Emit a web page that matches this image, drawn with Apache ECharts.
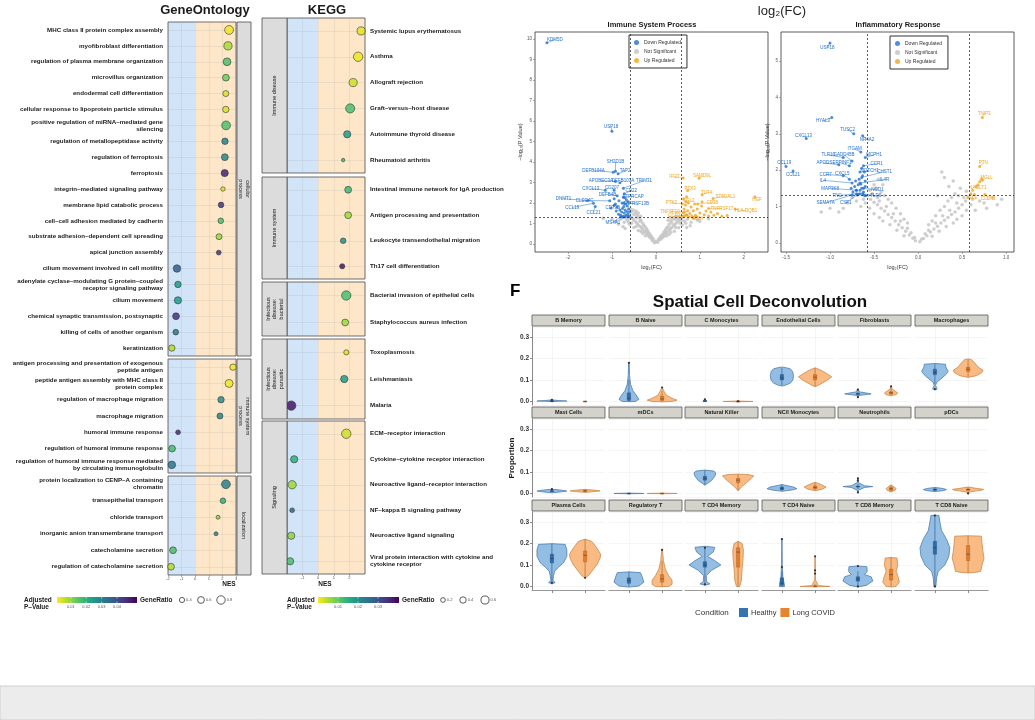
<!DOCTYPE html>
<html>
<head>
<meta charset="utf-8">
<title>Enrichment, volcano and deconvolution panels</title>
<script src="https://cdn.jsdelivr.net/npm/echarts@6.0.0/dist/echarts.min.js"></script>
<style>
  html, body { margin: 0; padding: 0; background: #fff; }
  #chart { width: 1035px; height: 720px; }
</style>
</head>
<body>
<div id="chart"></div>
<script>
const FONT = '"Liberation Sans", Arial, Helvetica, sans-serif'

// ---- GO enrichment ----
const goGroups = ['cellular\nprocess', 'immune system\nprocess', 'localization']
const goGroupSizes = [21, 7, 6]
const goTerms = [
  'MHC class II protein complex assembly', 'myofibroblast differentiation',
  'regulation of plasma membrane organization', 'microvillus organization',
  'endodermal cell differentiation', 'cellular response to lipoprotein particle stimulus',
  'positive regulation of miRNA–mediated gene\nsilencing', 'regulation of metallopeptidase activity',
  'regulation of ferroptosis', 'ferroptosis', 'integrin–mediated signaling pathway',
  'membrane lipid catabolic process', 'cell–cell adhesion mediated by cadherin',
  'substrate adhesion–dependent cell spreading', 'apical junction assembly',
  'cilium movement involved in cell motility',
  'adenylate cyclase–modulating G protein–coupled\nreceptor signaling pathway',
  'cilium movement', 'chemical synaptic transmission, postsynaptic',
  'killing of cells of another organism', 'keratinization',
  'antigen processing and presentation of exogenous\npeptide antigen',
  'peptide antigen assembly with MHC class II\nprotein complex',
  'regulation of macrophage migration', 'macrophage migration', 'humoral immune response',
  'regulation of humoral immune response',
  'regulation of humoral immune response mediated\nby circulating immunoglobulin',
  'protein localization to CENP–A containing\nchromatin', 'transepithelial transport',
  'chloride transport', 'inorganic anion transmembrane transport',
  'catecholamine secretion', 'regulation of catecholamine secretion'
]
const goNES = [2.49, 2.41, 2.34, 2.26, 2.25, 2.25, 2.27, 2.19, 2.18, 2.17, 2.04, 1.9, 1.88, 1.75, 1.73,
  -1.34, -1.27, -1.27, -1.41, -1.43, -1.72, 2.78, 2.49, 1.9, 1.82, -1.26, -1.7, -1.72,
  2.26, 2.04, 1.68, 1.53, -1.63, -1.78]
const goPadj = [0.002, 0.008, 0.016, 0.013, 0.004, 0.004, 0.016, 0.03, 0.028, 0.048, 0.003, 0.045, 0.016, 0.009, 0.045,
  0.037, 0.024, 0.024, 0.045, 0.032, 0.007, 0.002, 0.002, 0.027, 0.029, 0.047, 0.017, 0.032,
  0.03, 0.02, 0.01, 0.03, 0.016, 0.007]
const goRatio = [0.85, 0.78, 0.72, 0.6, 0.5, 0.55, 0.85, 0.55, 0.6, 0.65, 0.3, 0.45, 0.45, 0.5, 0.35,
  0.68, 0.55, 0.65, 0.6, 0.45, 0.55, 0.55, 0.75, 0.55, 0.5, 0.35, 0.6, 0.7,
  0.85, 0.45, 0.25, 0.25, 0.6, 0.6]
const goPadjTicks = [0.01, 0.02, 0.03, 0.04]
const goRatioTicks = [0.4, 0.6, 0.8]

// ---- KEGG enrichment ----
const keggGroups = ['Immune disease', 'Immune system', 'Infectious\ndisease:\nbacterial', 'Infectious\ndisease:\nparasitic', 'Signaling']
const keggGroupSizes = [6, 4, 2, 3, 6]
const keggTerms = [
  'Systemic lupus erythematosus', 'Asthma', 'Allograft rejection', 'Graft–versus–host disease',
  'Autoimmune thyroid disease', 'Rheumatoid arthritis',
  'Intestinal immune network for IgA production', 'Antigen processing and presentation',
  'Leukocyte transendothelial migration', 'Th17 cell differentiation',
  'Bacterial invasion of epithelial cells', 'Staphylococcus aureus infection',
  'Toxoplasmosis', 'Leishmaniasis', 'Malaria',
  'ECM–receptor interaction', 'Cytokine–cytokine receptor interaction',
  'Neuroactive ligand–receptor interaction', 'NF–kappa B signaling pathway',
  'Neuroactive ligand signaling', 'Viral protein interaction with cytokine and\ncytokine receptor'
]
const keggNES = [2.75, 2.56, 2.24, 2.05, 1.86, 1.6, 1.92, 1.92, 1.6, 1.54, 1.8, 1.73, 1.8, 1.67, -1.73,
  1.8, -1.54, -1.67, -1.67, -1.73, -1.8]
const keggPadj = [0.002, 0.001, 0.003, 0.012, 0.018, 0.013, 0.013, 0.006, 0.02, 0.038, 0.012, 0.006, 0.002, 0.018, 0.038,
  0.003, 0.015, 0.006, 0.027, 0.007, 0.012]
const keggRatio = [0.6, 0.75, 0.6, 0.72, 0.5, 0.05, 0.45, 0.45, 0.3, 0.25, 0.75, 0.45, 0.25, 0.5, 0.75,
  0.75, 0.5, 0.62, 0.2, 0.5, 0.5]
const keggPadjTicks = [0.01, 0.02, 0.03]
const keggRatioTicks = [0.2, 0.4, 0.6]

// ---- volcano: Immune System Process ----
const leftGray = [[-0.03,0.05],[0.04,0.08],[-0.08,0.15],[0.08,0.2],[-0.1,0.25],[0.11,0.22],[-0.14,0.32],[0.14,0.3],
  [-0.17,0.4],[0.17,0.35],[-0.2,0.48],[0.2,0.42],[-0.23,0.55],[0.23,0.5],[-0.26,0.62],[0.26,0.58],[-0.3,0.7],[0.3,0.66],
  [-0.33,0.78],[0.33,0.72],[-0.36,0.85],[0.36,0.8],[-0.4,0.92],[0.4,0.88],[-0.43,1.0],[0.43,0.95],[-0.46,1.08],[0.46,1.02],
  [-0.5,1.15],[0.5,1.1],[-0.53,1.22],[0.53,1.18],[-0.56,1.3],[0.56,1.25],[-0.12,0.42],[0.12,0.38],[-0.2,0.68],[0.2,0.6],
  [-0.28,0.9],[0.28,0.82],[-0.36,1.1],[0.36,1.02],[-0.44,1.28],[0.44,1.2],[-0.5,1.42],[0.5,1.3],[-0.55,1.55],[-0.58,1.7],
  [-0.52,1.65],[-0.3,0.5],[0.3,0.45],[-0.4,0.65],[0.42,0.62],[-0.5,0.8],[0.52,0.78],[-0.6,0.95],[0.6,0.92],[-0.65,1.15],
  [0.65,1.1],[-0.72,1.05],[0.72,1.2],[-0.8,1.2],[0.8,1.05],[-0.9,1.1],[0.95,1.15],[-1.2,1.25],[1.2,1.22],[-0.75,0.85],
  [0.78,0.88],[-0.6,1.25],[0.62,1.28],
  [-0.02,0.12],[0.02,0.1],[-0.06,0.25],[0.06,0.22],[-0.1,0.35],[0.1,0.32],[-0.15,0.5],[0.15,0.45],[-0.18,0.6],[0.18,0.55],
  [-0.22,0.75],[0.22,0.7],[-0.25,0.85],[0.25,0.8],[-0.3,1.0],[0.3,0.95],[-0.34,1.15],[0.34,1.1],[-0.38,1.25],[0.38,1.2],
  [-0.42,1.4],[0.42,1.3],[-0.47,1.5],[0.47,1.25],[-0.24,0.4],[0.24,0.38],[-0.34,0.6],[0.34,0.55],[-0.45,0.85],[0.45,0.8],
  [-0.55,1.0],[0.55,1.0],[-0.62,1.05],[0.58,1.15],[-0.68,1.25],[0.68,1.0],[-0.85,0.95],[0.85,1.25],[-1.0,1.2],[1.0,1.1],
  [-0.45,1.6],[-0.4,1.5],[-0.35,1.35],[0.32,1.3],[0.28,1.15],[-0.7,0.75],[0.7,0.8]]
const leftDown = [[-0.61,1.35],[-0.64,1.45],[-0.66,1.58],[-0.68,1.4],[-0.7,1.65],[-0.72,1.5],[-0.74,1.35],[-0.76,1.72],
  [-0.78,1.55],[-0.8,1.4],[-0.62,1.7],[-0.65,1.85],[-0.69,1.95],[-0.73,1.82],[-0.77,2.0],[-0.82,1.65],[-0.85,1.45],
  [-0.88,1.8],[-0.9,1.6],[-0.63,2.05],[-0.67,2.15],[-0.71,2.25],[-0.6,1.55],[-0.63,1.32],[-0.7,1.32],[-0.84,2.1],
  [-0.92,1.95],[-0.95,2.2],[-1.02,1.75],[-0.75,1.3]]
const leftUp = [[0.6,1.35],[0.62,1.52],[0.64,1.7],[0.67,1.9],[0.7,1.42],[0.72,1.62],[0.74,2.0],[0.77,1.48],[0.8,1.8],
  [0.82,1.36],[0.85,1.62],[0.88,1.95],[0.9,1.4],[0.94,1.7],[1.0,1.5],[1.04,1.85],[1.1,1.42],[1.14,1.6],[1.2,1.36],
  [1.25,1.55],[1.32,1.4],[1.4,1.48],[1.5,1.35],[0.63,2.2],[0.66,1.38],[0.75,1.32],[0.93,1.32],[1.62,1.38],[1.05,2.05],[0.7,2.3]]
// [gene, x, y, label x, label y]
const leftDownLabels = [
  ['KDM5D', -2.48, 9.82, -2.3, 9.98], ['USP18', -1.0, 5.5, -1.02, 5.72], ['SH2D1B', -0.92, 3.55, -0.92, 4.02],
  ['DEFB104A', -0.97, 3.5, -1.42, 3.58], ['TAP2', -0.86, 3.42, -0.7, 3.56], ['APOBEC3A', -0.92, 3.05, -1.25, 3.08],
  ['DEFB103A', -0.82, 2.98, -0.75, 3.08], ['TRIM31', -0.74, 2.72, -0.27, 3.08], ['CXCL13', -1.15, 2.62, -1.48, 2.7],
  ['CD207', -0.95, 2.62, -1.0, 2.72], ['CD22', -0.72, 2.45, -0.56, 2.6], ['DEFB4B', -0.88, 2.35, -1.1, 2.4],
  ['PTPRCAP', -0.74, 2.28, -0.52, 2.32], ['DNMT1', -1.55, 2.12, -2.1, 2.2], ['CLEC4C', -1.05, 2.1, -1.62, 2.12],
  ['TNFRSF13B', -0.73, 1.98, -0.45, 1.98], ['CCL19', -1.42, 1.98, -1.9, 1.78], ['CCL21', -1.38, 1.82, -1.42, 1.52],
  ['CD79B', -0.95, 1.88, -0.98, 1.78], ['MS4A1', -0.8, 1.32, -0.98, 1.05]]
const leftUpLabels = [
  ['IFI27', 0.62, 3.22, 0.42, 3.28], ['SAMD9L', 0.98, 3.2, 1.05, 3.32], ['PTX3', 0.72, 2.6, 0.78, 2.7],
  ['TLR4', 1.05, 2.4, 1.15, 2.5], ['ST6GAL1', 1.3, 2.22, 1.58, 2.32], ['FGL2', 0.68, 2.05, 0.75, 2.12],
  ['CD38', 0.95, 1.95, 1.28, 2.02], ['PTK2', 0.6, 1.95, 0.35, 2.0], ['TNFRSF17', 1.2, 1.72, 1.5, 1.72],
  ['HLA-DQB1', 1.8, 1.7, 2.05, 1.6], ['HGF', 2.25, 2.3, 2.3, 2.15], ['TNFSF10', 0.65, 1.55, 0.32, 1.58],
  ['CCR2', 0.7, 1.4, 0.42, 1.35], ['OSM', 0.85, 1.28, 0.95, 1.2]]

// ---- volcano: Inflammatory Response ----
const rightGray = [[0.02,0.03],[-0.03,0.06],[0.06,0.12],[-0.06,0.13],[0.1,0.2],[-0.1,0.22],[0.14,0.3],[-0.14,0.32],
  [0.18,0.38],[-0.18,0.42],[0.22,0.46],[-0.22,0.5],[0.26,0.55],[-0.26,0.6],[0.3,0.62],[-0.3,0.7],[0.34,0.7],[-0.34,0.78],
  [0.38,0.78],[-0.38,0.88],[0.42,0.85],[-0.42,0.95],[0.46,0.95],[-0.46,1.05],[0.5,1.05],[-0.5,1.12],[0.54,1.15],
  [-0.54,1.2],[0.57,1.25],[-0.57,1.3],[0.12,0.35],[-0.12,0.4],[0.2,0.55],[-0.2,0.6],[0.28,0.75],[-0.28,0.8],[0.36,0.9],
  [-0.36,1.0],[0.44,1.1],[-0.44,1.15],[0.52,1.25],[-0.52,1.35],[0.3,1.8],[0.27,1.95],[0.48,1.5],[0.55,1.42],[-0.48,1.5],
  [-0.55,1.45],[-0.7,1.15],[-0.8,1.1],[-0.65,1.0],[-1.0,0.95],[-0.9,0.85],[0.65,0.9],[0.7,1.15],[0.78,0.95],[0.9,1.05],
  [0.85,1.25],[-0.4,0.6],[0.4,0.55],[-0.16,0.2],[0.16,0.18],[-0.24,0.35],[0.24,0.32],[0.5,0.75],[-0.5,0.8],[0.6,1.05],[-0.6,1.1],
  [-0.04,0.15],[0.04,0.1],[-0.08,0.28],[0.08,0.25],[-0.12,0.55],[0.12,0.5],[-0.16,0.65],[0.16,0.6],[-0.2,0.8],[0.2,0.75],
  [-0.25,0.95],[0.25,0.9],[-0.3,1.1],[0.3,1.0],[-0.34,1.2],[0.34,1.15],[-0.38,1.3],[0.38,1.25],[-0.42,1.4],[0.42,1.35],
  [-0.46,1.25],[0.46,1.3],[-0.32,0.5],[0.32,0.45],[-0.44,0.7],[0.44,0.65],[-0.55,0.95],[0.55,0.9],[-0.62,1.2],[0.62,1.2],
  [-0.75,1.25],[0.75,1.1],[-0.85,0.95],[0.95,1.2],[-1.1,0.85],[0.35,1.55],[0.4,1.7],[0.22,1.3],[-0.4,1.6],[-0.5,1.6],[-0.45,1.75]]
const rightDown = [[-0.6,1.3],[-0.62,1.4],[-0.64,1.5],[-0.66,1.35],[-0.68,1.6],[-0.7,1.45],[-0.72,1.55],[-0.6,1.7],
  [-0.63,1.85],[-0.65,1.62],[-0.67,1.75],[-0.69,1.32],[-0.71,1.7],[-0.74,1.4],[-0.76,1.5],[-0.61,1.95],[-0.64,2.05],
  [-0.66,1.45],[-0.6,1.55],[-0.62,1.32]]
const rightUp = [[0.6,1.35],[0.62,1.45],[0.66,1.55],[0.7,1.68],[0.72,1.75]]
const rightDownLabels = [
  ['USP18', -1.0, 5.5, -1.03, 5.38], ['HYAL3', -0.98, 3.45, -1.08, 3.35], ['TUSC2', -0.73, 3.0, -0.8, 3.12],
  ['NR4A2', -0.63, 2.95, -0.58, 2.85], ['CXCL13', -1.27, 2.87, -1.3, 2.95], ['CCL19', -1.5, 2.1, -1.52, 2.2],
  ['CCL21', -1.42, 1.98, -1.42, 1.88], ['ITGAM', -0.65, 2.5, -0.72, 2.58], ['TLR10', -0.85, 2.35, -1.02, 2.42],
  ['GADD45B', -0.75, 2.25, -0.84, 2.42], ['APOD', -0.9, 2.15, -1.08, 2.2], ['SERPINF1', -0.78, 2.12, -0.88, 2.2],
  ['MCPH1', -0.6, 2.35, -0.5, 2.42], ['CCR1', -0.62, 2.12, -0.47, 2.18], ['NOTCH1', -0.66, 1.95, -0.55, 1.98],
  ['CHST1', -0.64, 1.8, -0.38, 1.96], ['IL4R', -0.66, 1.65, -0.38, 1.74], ['CCR7', -0.85, 1.85, -1.05, 1.88],
  ['CXCL5', -0.78, 1.75, -0.86, 1.9], ['IL4', -0.75, 1.65, -1.08, 1.72], ['MAP3K8', -0.7, 1.45, -1.0, 1.5],
  ['TNC', -0.7, 1.35, -0.92, 1.3], ['SEMA7A', -0.75, 1.32, -1.05, 1.1], ['CSF1', -0.68, 1.34, -0.82, 1.1],
  ['NOD1', -0.62, 1.5, -0.46, 1.46], ['TLR6', -0.63, 1.35, -0.48, 1.3]]
const rightUpLabels = [
  ['TNIP3', 0.73, 3.45, 0.75, 3.56], ['PTN', 0.7, 2.1, 0.74, 2.2], ['MGLL', 0.73, 1.72, 0.78, 1.8],
  ['NAGLT1', 0.68, 1.6, 0.68, 1.52], ['SELE', 0.64, 1.33, 0.61, 1.24], ['CLDN1', 0.76, 1.33, 0.8, 1.22]]

// ---- spatial deconvolution ----
const cellTypes = ['B Memory', 'B Naive', 'C Monocytes', 'Endothelial Cells', 'Fibroblasts', 'Macrophages',
  'Mast Cells', 'mDCs', 'Natural Killer', 'NC/I Monocytes', 'Neutrophils', 'pDCs',
  'Plasma Cells', 'Regulatory T', 'T CD4 Memory', 'T CD4 Naive', 'T CD8 Memory', 'T CD8 Naive']
// violin outline: [proportion, half width]
const healthyViolins = [
  [[-0.001,0],[0.001,0.2],[0.002,0.45],[0.004,0.2],[0.007,0.05],[0.009,0]],
  [[-0.001,0],[0.0,0.2],[0.01,0.3],[0.03,0.22],[0.05,0.12],[0.08,0.05],[0.12,0.02],[0.18,0.01],[0.182,0]],
  [[-0.001,0],[0.001,0.05],[0.004,0.04],[0.01,0.01],[0.011,0]],
  [[0.072,0],[0.075,0.1],[0.085,0.25],[0.1,0.33],[0.12,0.35],[0.14,0.32],[0.152,0.25],[0.158,0.1],[0.16,0]],
  [[0.018,0],[0.028,0.03],[0.033,0.3],[0.035,0.4],[0.038,0.3],[0.045,0.04],[0.055,0.02],[0.058,0]],
  [[0.053,0],[0.058,0.07],[0.065,0.05],[0.075,0.02],[0.09,0.06],[0.105,0.18],[0.125,0.33],[0.14,0.4],[0.16,0.33],[0.173,0.32],[0.177,0]],
  [[0.003,0],[0.007,0.25],[0.011,0.45],[0.015,0.3],[0.019,0.05],[0.021,0]],
  [[-0.0015,0],[0,0.45],[0.0015,0]],
  [[0.038,0],[0.045,0.06],[0.06,0.2],[0.08,0.3],[0.095,0.33],[0.104,0.27],[0.109,0]],
  [[0.01,0],[0.016,0.3],[0.022,0.45],[0.03,0.35],[0.038,0.1],[0.042,0]],
  [[0.004,0],[0.015,0.02],[0.028,0.2],[0.032,0.45],[0.036,0.2],[0.05,0.02],[0.07,0.01],[0.072,0]],
  [[0.009,0],[0.013,0.25],[0.018,0.35],[0.023,0.25],[0.028,0]],
  [[0.012,0],[0.018,0.1],[0.028,0.03],[0.05,0.05],[0.07,0.08],[0.09,0.2],[0.11,0.35],[0.14,0.45],[0.17,0.45],[0.196,0.4],[0.199,0]],
  [[-0.003,0],[0.002,0.3],[0.02,0.45],[0.045,0.4],[0.064,0.35],[0.068,0]],
  [[0.006,0],[0.012,0.15],[0.022,0.05],[0.05,0.04],[0.075,0.2],[0.1,0.48],[0.12,0.3],[0.14,0.08],[0.16,0.25],[0.182,0.3],[0.187,0]],
  [[-0.001,0],[0.0,0.08],[0.02,0.06],[0.04,0.03],[0.1,0.01],[0.22,0.005],[0.221,0]],
  [[-0.002,0],[0.005,0.25],[0.025,0.45],[0.045,0.4],[0.055,0.2],[0.07,0.28],[0.092,0.27],[0.095,0]],
  [[-0.002,0],[0.0,0.03],[0.04,0.05],[0.07,0.1],[0.1,0.3],[0.14,0.42],[0.18,0.45],[0.22,0.35],[0.26,0.2],[0.3,0.15],[0.33,0.12],[0.332,0]]
]
const covidViolins = [
  [[-0.001,0],[0.0,0.05],[0.001,0]],
  [[-0.002,0],[0.0,0.3],[0.006,0.45],[0.015,0.3],[0.03,0.12],[0.05,0.05],[0.065,0.01],[0.066,0]],
  [[-0.0015,0],[0,0.45],[0.0015,0.1],[0.003,0]],
  [[0.068,0],[0.08,0.15],[0.1,0.38],[0.115,0.5],[0.13,0.35],[0.145,0.18],[0.155,0.03],[0.157,0]],
  [[0.027,0],[0.032,0.16],[0.04,0.2],[0.048,0.12],[0.058,0.03],[0.07,0.01],[0.071,0]],
  [[0.112,0],[0.12,0.25],[0.135,0.42],[0.145,0.45],[0.16,0.3],[0.18,0.2],[0.195,0.1],[0.198,0]],
  [[0.005,0],[0.009,0.3],[0.012,0.45],[0.015,0.3],[0.019,0]],
  [[-0.0015,0],[0,0.45],[0.0015,0]],
  [[0.012,0],[0.03,0.1],[0.05,0.25],[0.07,0.4],[0.082,0.47],[0.088,0.3],[0.09,0]],
  [[0.013,0],[0.02,0.22],[0.03,0.33],[0.04,0.2],[0.05,0.05],[0.052,0]],
  [[0.007,0],[0.015,0.12],[0.022,0.15],[0.03,0.1],[0.038,0.02],[0.04,0]],
  [[-0.001,0],[0.008,0.08],[0.015,0.4],[0.019,0.47],[0.025,0.2],[0.03,0]],
  [[0.04,0],[0.05,0.1],[0.07,0.2],[0.1,0.35],[0.13,0.45],[0.15,0.47],[0.18,0.35],[0.21,0.2],[0.22,0]],
  [[-0.001,0],[0.0,0.2],[0.01,0.3],[0.03,0.3],[0.05,0.2],[0.08,0.1],[0.12,0.04],[0.17,0.01],[0.171,0]],
  [[-0.001,0],[0,0.05],[0.03,0.1],[0.08,0.12],[0.13,0.15],[0.17,0.16],[0.2,0.12],[0.21,0]],
  [[-0.002,0],[0.0,0.45],[0.004,0.1],[0.03,0.01],[0.14,0.005],[0.141,0]],
  [[-0.002,0],[0.0,0.15],[0.02,0.25],[0.05,0.2],[0.07,0.15],[0.1,0.2],[0.132,0.18],[0.135,0]],
  [[0.063,0],[0.065,0.2],[0.07,0.38],[0.1,0.42],[0.13,0.48],[0.16,0.45],[0.2,0.42],[0.234,0.4],[0.236,0]]
]
// box: [lower whisker, q1, median, q3, upper whisker, ...outliers]
const healthyBoxes = [
  [0, 0.001, 0.002, 0.003, 0.005, 0.007], [0, 0.005, 0.015, 0.04, 0.1, 0.18], [0, 0.001, 0.002, 0.004, 0.008, 0.01],
  [0.075, 0.1, 0.11, 0.125, 0.155], [0.025, 0.033, 0.035, 0.038, 0.045, 0.055, 0.02], [0.08, 0.125, 0.135, 0.15, 0.175, 0.058],
  [0.005, 0.009, 0.011, 0.013, 0.018, 0.02], [0, 0, 0.0005, 0.001, 0.002], [0.04, 0.062, 0.07, 0.08, 0.108],
  [0.012, 0.018, 0.022, 0.03, 0.04], [0.02, 0.03, 0.032, 0.034, 0.045, 0.06, 0.07, 0.005], [0.01, 0.015, 0.018, 0.021, 0.027],
  [0.02, 0.11, 0.13, 0.15, 0.2, 0.017], [0, 0.015, 0.027, 0.04, 0.067], [0.01, 0.09, 0.1, 0.115, 0.185, 0.01, 0.18],
  [0, 0.005, 0.015, 0.04, 0.07, 0.09, 0.22], [0, 0.025, 0.035, 0.045, 0.07, 0.095, 0.0], [0, 0.15, 0.18, 0.21, 0.33, 0.0, 0.33]
]
const covidBoxes = [
  [0, 0, 0.0005, 0.001, 0.001], [0, 0.005, 0.012, 0.025, 0.05, 0.065], [0, 0, 0.0005, 0.001, 0.002, 0.001],
  [0.07, 0.1, 0.113, 0.125, 0.155], [0.03, 0.035, 0.04, 0.045, 0.06, 0.07], [0.115, 0.14, 0.15, 0.16, 0.195],
  [0.006, 0.01, 0.012, 0.014, 0.018], [0, 0, 0.0005, 0.001, 0.002], [0.015, 0.05, 0.062, 0.07, 0.088],
  [0.015, 0.022, 0.028, 0.035, 0.05], [0.008, 0.015, 0.022, 0.028, 0.038], [0.005, 0.015, 0.018, 0.021, 0.028, 0.0],
  [0.045, 0.115, 0.145, 0.165, 0.22, 0.04], [0, 0.02, 0.035, 0.055, 0.12, 0.17], [0, 0.09, 0.16, 0.18, 0.21],
  [0, 0, 0.001, 0.003, 0.01, 0.06, 0.075, 0.14], [0, 0.03, 0.055, 0.08, 0.135], [0.065, 0.12, 0.15, 0.19, 0.235]
]

const viridisRev = ['#fde725', '#b5de2b', '#6ece58', '#35b779', '#1f9e89', '#26828e', '#31688e', '#3e4989', '#482878', '#440154']
const HEALTHY = { fill: '#93bde3', line: '#4d7fae', box: '#2c6aa8', boxLine: '#1f4f80', key: '#3572b0' }
const COVID = { fill: '#f9bb83', line: '#c98a4e', box: '#e07d2c', boxLine: '#a35a1c', key: '#e5852f' }
const DOWN = '#2270d0', UP = '#f2a31b', NS = '#c6c6c6'

const grids = [], xAxes = [], yAxes = [], series = [], graphics = []

function txt(x, y, text, o = {}) {
  return {
    type: 'text', x, y, rotation: o.rot || 0, silent: true, z: 10,
    style: {
      text, fill: o.color || '#1a1a1a', fontSize: o.size || 6, fontWeight: o.bold ? 'bold' : 'normal',
      fontFamily: FONT, align: o.align || 'center', verticalAlign: o.va || 'middle', lineHeight: o.lh
    }
  }
}
function rect(x, y, w, h, fill, stroke, lw = 0.8) {
  return { type: 'rect', silent: true, z: 10, shape: { x, y, width: w, height: h }, style: { fill, stroke, lineWidth: lw } }
}
function addGrid(g) {
  grids.push(g)
  return grids.length - 1
}

// NES axes and enrichment panels
function nesAxis(idx, showLabels, hideEnds) {
  return {
    type: 'value', gridIndex: idx, min: -2, max: 3, interval: 1,
    axisLine: { show: false, onZero: false },
    axisTick: { show: showLabels, length: 2, lineStyle: { color: '#666', width: 0.5 } },
    axisLabel: { show: showLabels, fontSize: 4, color: '#555', margin: 2, showMinLabel: !hideEnds, showMaxLabel: !hideEnds },
    splitLine: { lineStyle: { color: 'rgba(160,160,160,0.35)', width: 0.5 } }
  }
}
function termAxis(idx, names, position) {
  return {
    type: 'category', gridIndex: idx, data: names, inverse: true, position,
    axisLine: { show: false }, axisTick: { show: false },
    axisLabel: { interval: 0, fontSize: 6.2, fontWeight: 'bold', color: '#1a1a1a', margin: 5, lineHeight: 7 },
    splitLine: { show: true, interval: 0, alignWithLabel: true, lineStyle: { color: 'rgba(160,160,160,0.35)', width: 0.5 } }
  }
}
function bandSeries(idx) {
  return {
    type: 'custom', xAxisIndex: idx, yAxisIndex: idx, silent: true, z: -1, data: [[0, 0]],
    renderItem: (params, api) => {
      const cs = params.coordSys
      const x0 = api.coord([0, 0])[0]
      return {
        type: 'group', children: [
          { type: 'rect', shape: { x: cs.x, y: cs.y, width: x0 - cs.x, height: cs.height }, style: { fill: '#d2e4f8' } },
          { type: 'rect', shape: { x: x0, y: cs.y, width: cs.x + cs.width - x0, height: cs.height }, style: { fill: '#fde7c8' } }
        ]
      }
    }
  }
}
function enrichPanels(terms, nes, padj, ratio, sizes, groups, geom, sizeFn, seriesIdx) {
  let start = 0
  sizes.forEach((n, gi) => {
    const last = gi === sizes.length - 1
    const idx = addGrid({ left: geom.left, top: geom.tops[gi], width: geom.width, height: geom.heights[gi], show: true, borderColor: '#4d4d4d', borderWidth: 0.8 })
    xAxes.push(nesAxis(idx, last, geom.hideEnds))
    yAxes.push(termAxis(idx, terms.slice(start, start + n), geom.labelSide))
    series.push(bandSeries(idx))
    seriesIdx.push(series.length)
    series.push({
      type: 'scatter', xAxisIndex: idx, yAxisIndex: idx, z: 3,
      data: terms.slice(start, start + n).map((t, i) => [nes[start + i], i, padj[start + i], ratio[start + i]]),
      symbolSize: v => sizeFn(v[3]),
      itemStyle: { borderColor: '#333', borderWidth: 0.7, opacity: 0.85 }
    })
    const sx = geom.stripX, sw = geom.stripW, top = geom.tops[gi], h = geom.heights[gi]
    graphics.push(rect(sx, top, sw, h, '#dcdcdc', '#4d4d4d'))
    graphics.push(txt(sx + sw / 2, top + h / 2, groups[gi], { size: 5.5, rot: geom.stripRot, lh: 6.5 }))
    start += n
  })
}
function enrichLegend(x0, barX, barW, lo, hi, ticks, sizeX, circles, ratioTicks, sizeFn) {
  graphics.push(txt(x0, 604, 'Adjusted\nP–Value', { size: 6.5, bold: true, align: 'left', lh: 7 }))
  const stops = viridisRev.map((c, i) => ({ offset: i / (viridisRev.length - 1), color: c }))
  graphics.push({ type: 'rect', silent: true, z: 10, shape: { x: barX, y: 597, width: barW, height: 6 }, style: { fill: new echarts.graphic.LinearGradient(0, 0, 1, 0, stops) } })
  ticks.forEach(t => {
    const tx = barX + (t - lo) / (hi - lo) * barW
    graphics.push({ type: 'line', silent: true, z: 11, shape: { x1: tx, y1: 597, x2: tx, y2: 598.5 }, style: { stroke: '#fff', lineWidth: 0.6 } })
    graphics.push({ type: 'line', silent: true, z: 11, shape: { x1: tx, y1: 601.5, x2: tx, y2: 603 }, style: { stroke: '#fff', lineWidth: 0.6 } })
    graphics.push(txt(tx, 607, String(t), { size: 4, color: '#555' }))
  })
  graphics.push(txt(sizeX, 600, 'GeneRatio', { size: 6.5, bold: true, align: 'left' }))
  ratioTicks.forEach((r, i) => {
    const d = sizeFn(r)
    graphics.push({ type: 'circle', silent: true, z: 10, shape: { cx: circles[i], cy: 600, r: d / 2 }, style: { fill: '#fff', stroke: '#333', lineWidth: 0.8 } })
    graphics.push(txt(circles[i] + d / 2 + 1.5, 600, String(r), { size: 4, color: '#555', align: 'left' }))
  })
}

const goSize = r => 2 + 8 * r
const keggSize = r => 3 + 8.5 * r
const goSeriesIdx = [], keggSeriesIdx = []
enrichPanels(goTerms, goNES, goPadj, goRatio, goGroupSizes, goGroups,
  { left: 168, width: 68, tops: [22, 359, 476], heights: [334, 114, 99], labelSide: 'left', stripX: 237, stripW: 14, stripRot: -Math.PI / 2, hideEnds: false },
  goSize, goSeriesIdx)
enrichPanels(keggTerms, keggNES, keggPadj, keggRatio, keggGroupSizes, keggGroups,
  { left: 287, width: 78, tops: [18, 177, 282, 339, 421], heights: [155, 102, 54, 80, 153], labelSide: 'right', stripX: 262, stripW: 25, stripRot: Math.PI / 2, hideEnds: true },
  keggSize, keggSeriesIdx)
graphics.push(txt(205, 10, 'GeneOntology', { size: 13, bold: true }))
graphics.push(txt(327, 10, 'KEGG', { size: 13, bold: true }))
graphics.push(txt(229, 584, 'NES', { size: 6.5, bold: true }))
graphics.push(txt(325, 584, 'NES', { size: 6.5, bold: true }))
enrichLegend(24, 57, 80, 0.001, 0.053, goPadjTicks, 140, [182, 201, 221], goRatioTicks, goSize)
enrichLegend(287, 318, 81, 0, 0.0405, keggPadjTicks, 402, [443, 463, 485], keggRatioTicks, keggSize)

// volcano plots
function labelSeries(idx, labels, color) {
  return {
    type: 'custom', xAxisIndex: idx, yAxisIndex: idx, silent: true, z: 4,
    data: labels.map(l => [l[1], l[2], l[3], l[4]]),
    renderItem: (params, api) => {
      const p = api.coord([api.value(0), api.value(1)])
      const q = api.coord([api.value(2), api.value(3)])
      return {
        type: 'group', children: [
          { type: 'line', shape: { x1: p[0], y1: p[1], x2: q[0], y2: q[1] }, style: { stroke: color, lineWidth: 0.5 } },
          { type: 'text', x: q[0], y: q[1], style: { text: labels[params.dataIndex][0], fill: color, fontSize: 4.5, fontFamily: FONT, align: 'center', verticalAlign: 'middle' } }
        ]
      }
    }
  }
}
function volcano(left, title, xr, xStep, yr, gray, down, up, downLabels, upLabels, fmt) {
  const idx = addGrid({ left, top: 32, width: 233, height: 220, show: true, borderColor: '#333', borderWidth: 0.8 })
  xAxes.push({
    type: 'value', gridIndex: idx, min: xr[0], max: xr[1], minInterval: xStep, maxInterval: xStep,
    name: 'log₂(FC)', nameLocation: 'middle', nameGap: 12, nameTextStyle: { fontSize: 5.5, color: '#333' },
    axisLine: { show: false, onZero: false }, axisTick: { length: 2, lineStyle: { color: '#666', width: 0.5 } },
    axisLabel: { fontSize: 4.5, color: '#555', margin: 3, showMinLabel: false, showMaxLabel: false, formatter: fmt },
    splitLine: { show: false }
  })
  yAxes.push({
    type: 'value', gridIndex: idx, min: yr[0], max: yr[1], minInterval: 1, maxInterval: 1,
    name: '–log₁₀(P Value)', nameLocation: 'middle', nameGap: 11, nameTextStyle: { fontSize: 5.5, color: '#333' },
    axisLine: { show: false, onZero: false }, axisTick: { length: 2, lineStyle: { color: '#666', width: 0.5 } },
    axisLabel: { fontSize: 4.5, color: '#555', margin: 3, showMinLabel: false, showMaxLabel: false },
    splitLine: { show: false }
  })
  const pt = l => [l[1], l[2]]
  series.push({ type: 'scatter', name: 'Not Significant', xAxisIndex: idx, yAxisIndex: idx, symbolSize: 3.5, data: gray, itemStyle: { color: NS, opacity: 0.85 }, silent: true })
  series.push({
    type: 'scatter', name: 'Down Regulated', xAxisIndex: idx, yAxisIndex: idx, symbolSize: 3, silent: true,
    data: down.concat(downLabels.map(pt)), itemStyle: { color: DOWN },
    markLine: {
      silent: true, symbol: 'none', label: { show: false }, animation: false,
      lineStyle: { type: [2, 2], color: '#333', width: 0.8 },
      data: [{ xAxis: -0.585 }, { xAxis: 0.585 }, { yAxis: 1.301 }]
    }
  })
  series.push({ type: 'scatter', name: 'Up Regulated', xAxisIndex: idx, yAxisIndex: idx, symbolSize: 3, silent: true, data: up.concat(upLabels.map(pt)), itemStyle: { color: UP } })
  series.push(labelSeries(idx, downLabels, DOWN))
  series.push(labelSeries(idx, upLabels, UP))
  graphics.push(txt(left + 117, 25, title, { size: 7.5, bold: true }))
}
volcano(535, 'Immune System Process', [-2.75, 2.55], 1, [-0.4, 10.35], leftGray, leftDown, leftUp, leftDownLabels, leftUpLabels, v => String(v))
volcano(781, 'Inflammatory Response', [-1.557, 1.09], 0.5, [-0.25, 5.8], rightGray, rightDown, rightUp, rightDownLabels, rightUpLabels, v => v.toFixed(1))
graphics.push(txt(782, 11, 'log₂(FC)', { size: 13, color: '#222' }))

// spatial cell deconvolution
function violinSeries(idx, name, xc, prof, box, pal) {
  return {
    type: 'custom', name, xAxisIndex: idx, yAxisIndex: idx, silent: true, itemStyle: { color: pal.key },
    data: [[xc, box[2]]],
    renderItem: (params, api) => {
      const right = prof.map(p => api.coord([xc + p[1], p[0]]))
      const left = prof.slice().reverse().map(p => api.coord([xc - p[1], p[0]]))
      const b0 = api.coord([xc - 0.05, box[3]]), b1 = api.coord([xc + 0.05, box[1]])
      const lo = api.coord([xc, box[0]]), hi = api.coord([xc, box[4]]), med = api.coord([xc, box[2]])
      const kids = [
        { type: 'polygon', shape: { points: right.concat(left) }, style: { fill: pal.fill, stroke: pal.line, lineWidth: 0.8 } },
        { type: 'line', shape: { x1: lo[0], y1: lo[1], x2: hi[0], y2: hi[1] }, style: { stroke: pal.boxLine, lineWidth: 0.6 } },
        { type: 'rect', shape: { x: b0[0], y: b0[1], width: b1[0] - b0[0], height: Math.max(b1[1] - b0[1], 0.8) }, style: { fill: pal.box, stroke: pal.boxLine, lineWidth: 0.4 } },
        { type: 'line', shape: { x1: b0[0], y1: med[1], x2: b1[0], y2: med[1] }, style: { stroke: '#2b2b2b', lineWidth: 0.5 } }
      ]
      box.slice(5).forEach(v => {
        const o = api.coord([xc, v])
        kids.push({ type: 'circle', shape: { cx: o[0], cy: o[1], r: 1.1 }, style: { fill: '#333' } })
      })
      return { type: 'group', children: kids }
    }
  }
}
const colLeft = [532, 609, 685, 762, 838, 915]
const rowTop = [327, 419, 512]
cellTypes.forEach((ct, k) => {
  const r = Math.floor(k / 6), c = k % 6
  const idx = addGrid({ left: colLeft[c], top: rowTop[r], width: 73, height: 78 })
  xAxes.push({
    type: 'value', gridIndex: idx, min: 0.4, max: 2.6, minInterval: 1, maxInterval: 1,
    axisLine: { show: r === 2, onZero: false, lineStyle: { color: '#9a9a9a', width: 1.2 } },
    axisTick: { show: r === 2, customValues: [1, 2], length: 3, lineStyle: { color: '#888' } },
    axisLabel: { show: false },
    splitLine: { lineStyle: { color: '#efefef', width: 0.6 } }
  })
  yAxes.push({
    type: 'value', gridIndex: idx, min: -0.0165, max: 0.3465, minInterval: 0.1, maxInterval: 0.1,
    axisLine: { show: c === 0, onZero: false, lineStyle: { color: '#888' } },
    axisTick: { show: c === 0, length: 2, lineStyle: { color: '#888' } },
    axisLabel: { show: c === 0, fontSize: 6.5, fontWeight: 'bold', color: '#333', margin: 3, showMinLabel: false, showMaxLabel: false, formatter: v => v.toFixed(1) },
    splitLine: { lineStyle: { color: '#efefef', width: 0.6 } }
  })
  series.push(violinSeries(idx, 'Healthy', 1, healthyViolins[k], healthyBoxes[k], HEALTHY))
  series.push(violinSeries(idx, 'Long COVID', 2, covidViolins[k], covidBoxes[k], COVID))
  graphics.push(rect(colLeft[c], rowTop[r] - 12, 73, 11, '#d3d3cb', '#555'))
  graphics.push(txt(colLeft[c] + 36.5, rowTop[r] - 6.5, ct, { size: 5.5, bold: true }))
})
graphics.push(txt(510, 291, 'F', { size: 17, bold: true, align: 'left', color: '#000' }))
graphics.push(txt(760, 302, 'Spatial Cell Deconvolution', { size: 17, bold: true, color: '#111' }))
graphics.push(txt(512, 458, 'Proportion', { size: 8, bold: true, rot: Math.PI / 2 }))
graphics.push(txt(695, 613, 'Condition', { size: 8, align: 'left', color: '#333' }))

// window chrome strip at the bottom
graphics.push({ type: 'rect', silent: true, z: 0, shape: { x: 0, y: 686, width: 1035, height: 34 }, style: { fill: '#ececec', stroke: '#cfcfcf', lineWidth: 1 } })

const chart = echarts.init(document.getElementById('chart'))
chart.setOption({
  animation: false,
  backgroundColor: '#fff',
  textStyle: { fontFamily: FONT },
  grid: grids,
  xAxis: xAxes,
  yAxis: yAxes,
  visualMap: [
    { type: 'continuous', show: false, seriesIndex: goSeriesIdx, dimension: 2, min: 0.001, max: 0.053, inRange: { color: viridisRev } },
    { type: 'continuous', show: false, seriesIndex: keggSeriesIdx, dimension: 2, min: 0, max: 0.0405, inRange: { color: viridisRev } }
  ],
  legend: [
    { data: ['Down Regulated', 'Not Significant', 'Up Regulated'], left: 629, top: 35, orient: 'vertical', icon: 'circle', itemWidth: 5, itemHeight: 5, itemGap: 4, padding: [5, 6, 5, 5], borderColor: '#333', borderWidth: 1, textStyle: { fontSize: 5, color: '#333' }, selectedMode: false },
    { data: ['Down Regulated', 'Not Significant', 'Up Regulated'], left: 890, top: 36, orient: 'vertical', icon: 'circle', itemWidth: 5, itemHeight: 5, itemGap: 4, padding: [5, 6, 5, 5], borderColor: '#333', borderWidth: 1, textStyle: { fontSize: 5, color: '#333' }, selectedMode: false },
    { data: ['Healthy', 'Long COVID'], left: 734, top: 603, icon: 'rect', itemWidth: 9, itemHeight: 9, itemGap: 4, textStyle: { fontSize: 7.5, color: '#333', padding: [0, 0, 0, -2] }, selectedMode: false }
  ],
  graphic: graphics,
  series
})
window.addEventListener('resize', () => chart.resize())
</script>
</body>
</html>
